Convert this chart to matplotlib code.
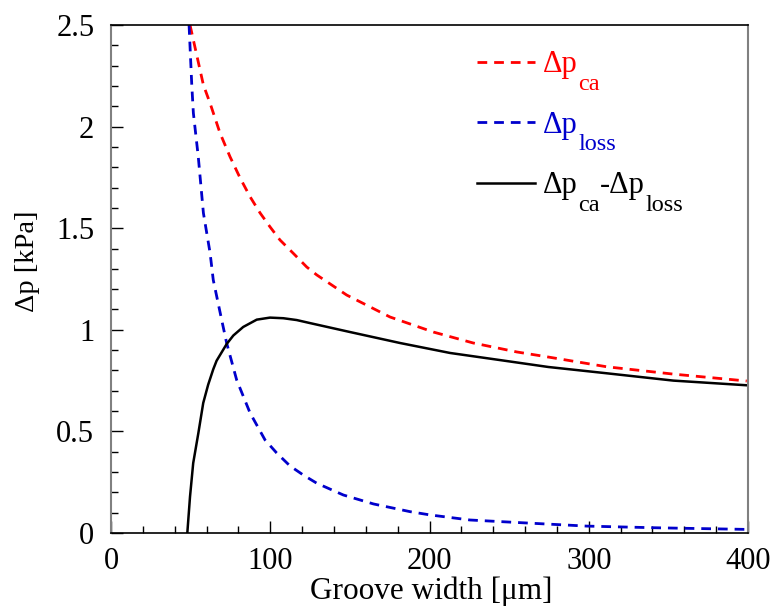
import matplotlib
matplotlib.use("Agg")
import matplotlib.pyplot as plt
from matplotlib.ticker import MultipleLocator, FuncFormatter

plt.rcParams["font.family"] = ["Liberation Serif", "DejaVu Serif"]

# Values (groove width in um, pressure in kPa)
w_ca = [49.6, 58.0, 62.2, 68.4, 74.7, 81.0, 87.3, 93.6, 99.8, 106.1, 114.5, 122.9,
        129.2, 148.0, 175.2, 202.4, 227.5, 254.8, 274.6, 311.3, 353.1, 399.2]
p_ca = [2.50, 2.205, 2.115, 1.969, 1.852, 1.748, 1.655, 1.575, 1.507, 1.442, 1.376,
        1.309, 1.270, 1.171, 1.063, 0.989, 0.935, 0.891, 0.866, 0.818, 0.782, 0.748]

w_loss = [49.0, 50.7, 51.7, 54.8, 58.0, 62.2, 64.2, 69.5, 72.6, 78.9, 87.3, 96.7,
          104.0, 112.4, 120.8, 129.2, 145.9, 164.8, 187.8, 200.3, 225.4, 256.8,
          298.7, 340.5, 397.1, 400.0]
p_loss = [2.50, 2.205, 2.067, 1.850, 1.575, 1.378, 1.245, 1.048, 0.935, 0.753, 0.591,
          0.458, 0.394, 0.330, 0.285, 0.245, 0.187, 0.143, 0.105, 0.089, 0.064, 0.051,
          0.034, 0.026, 0.018, 0.018]

w_net = [47.9, 49.6, 51.6, 54.8, 57.9, 61.0, 64.2, 66.3, 72.6, 76.8, 83.0, 91.5,
         99.8, 108.2, 116.6, 125.0, 150.1, 181.5, 212.9, 244.3, 274.6, 311.3, 353.1, 399.2]
p_net = [0.0, 0.179, 0.344, 0.49, 0.640, 0.73, 0.806, 0.848, 0.930, 0.972, 1.014, 1.050,
         1.060, 1.057, 1.048, 1.033, 0.989, 0.935, 0.886, 0.851, 0.817, 0.786, 0.750, 0.727]

RED, BLUE = "red", "#0000cc"

fig = plt.figure(figsize=(7.77, 6.13), dpi=100)
ax = fig.add_axes([0.1429, 0.1305, 0.8198, 0.8287])

dash = (0, (3.5, 2.5))
l1, = ax.plot(w_ca, p_ca, color=RED, lw=2, ls=dash)
l2, = ax.plot(w_loss, p_loss, color=BLUE, lw=2, ls=dash)
l3, = ax.plot(w_net, p_net, color="black", lw=1.8)

ax.set_xlim(0, 400)
ax.set_ylim(0, 2.5)
ax.xaxis.set_major_locator(MultipleLocator(100))
ax.xaxis.set_minor_locator(MultipleLocator(20))
ax.yaxis.set_major_locator(MultipleLocator(0.5))
ax.yaxis.set_minor_locator(MultipleLocator(0.1))
ax.yaxis.set_major_formatter(FuncFormatter(lambda v, p: f"{v:g}"))
ax.tick_params(which="both", direction="in", top=False, right=False, labelsize=22)
ax.tick_params(axis="x", pad=10)
ax.tick_params(axis="y", pad=12)
ax.tick_params(which="major", length=8.5, width=1)
ax.tick_params(which="minor", length=5, width=1)

for side in ["left", "right"]:
    ax.spines[side].set_color("#808080")
    ax.spines[side].set_linewidth(1.5)
for side in ["top", "bottom"]:
    ax.spines[side].set_color("black")
    ax.spines[side].set_linewidth(1.2)

ax.set_xlabel("Groove width [\u03bcm]", fontsize=22.5)
ax.set_ylabel("\u0394p [kPa]", fontsize=20.5)
ax.xaxis.set_label_coords(0.502, -0.085)
ax.yaxis.set_label_coords(-0.111, 0.535)

# legend: handles + main "Δp" text, subscripts added below (they sit low, as in the original)
leg = ax.legend([l1, l2, l3], ["\u0394p"] * 3, loc="upper left",
                bbox_to_anchor=(0.5746, 0.950), frameon=False, fontsize=22,
                borderpad=0, borderaxespad=0, handlelength=1.9,
                handletextpad=0.26, labelspacing=1.03)
texts = leg.get_texts()
for txt, c in zip(texts, [RED, BLUE, "black"]):
    txt.set_color(c)


def sub(s, base, ybase, color):
    return ax.annotate(s, xy=(1, 0), xycoords=(base, ybase), xytext=(0.5, -11),
                       textcoords="offset points", va="bottom", ha="left",
                       fontsize=17.5, color=color, zorder=6)


def main(s, base, ybase, color):
    return ax.annotate(s, xy=(1, 0), xycoords=(base, ybase), xytext=(0, 0),
                       textcoords="offset points", va="bottom", ha="left",
                       fontsize=22, color=color, zorder=6)


sub("ca", texts[0], texts[0], RED)
sub("loss", texts[1], texts[1], BLUE)
s1 = sub("ca", texts[2], texts[2], "black")
m2 = main("-\u0394p", s1, texts[2], "black")
sub("loss", m2, m2, "black")

fig.canvas.draw()
fig.savefig("out.png", dpi=100)
